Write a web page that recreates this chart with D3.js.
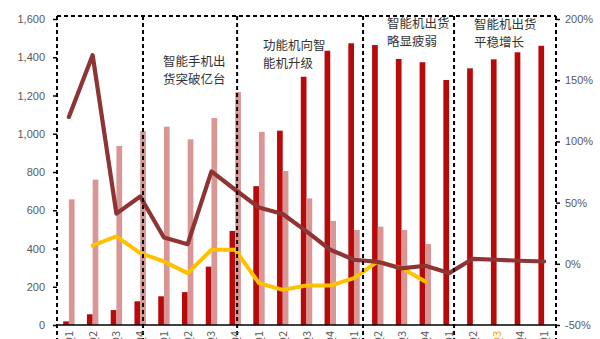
<!DOCTYPE html>
<html>
<head>
<meta charset="utf-8">
<script src="https://cdn.jsdelivr.net/npm/d3@7/dist/d3.min.js"></script>
<style>
  html, body { margin: 0; padding: 0; background: #fff; overflow: hidden; }
  svg { display: block; font-family: "Noto Sans CJK SC", "Liberation Sans", sans-serif; }
</style>
</head>
<body>
<svg id="chart" width="600" height="339"></svg>
<script>
// Quarterly shipments (left axis) and year-on-year growth (right axis, %)
const quarters = [
  "2010Q1","2010Q2","2010Q3","2010Q4","2011Q1","2011Q2","2011Q3","2011Q4",
  "2012Q1","2012Q2","2012Q3","2012Q4","2013Q1","2013Q2","2013Q3","2013Q4",
  "2014Q1","2014Q2","2014Q3","2014Q4","2015Q1"
];
const smartShipments = [19, 56, 78, 124, 150, 172, 305, 492, 726, 1016, 1298, 1434, 1473,
                        1464, 1391, 1374, 1281, 1342, 1389, 1426, 1460];
const featureShipments = [657, 760, 936, 1014, 1037, 971, 1082, 1218, 1010, 805, 662, 544, 497,
                          514, 497, 424, null, null, null, null, null];
const smartYoY = [120, 170.5, 41, 55, 21.5, 16, 75.5, 60.5, 46, 40.7, 26.5, 11.5, 3.3,
                  1.6, -3.8, -1.6, -7.6, 4.1, 3.3, 2.5, 1.9];
const totalYoY = [null, 14.8, 22.5, 8.8, 1.9, -7.6, 11.5, 11.5, -15.8, -21.3, -17.8, -17.8, -11.7,
                  1.9, -3.5, -14.5, null, null, null, null, null];
const leftTicks = [0, 200, 400, 600, 800, 1000, 1200, 1400, 1600];
const rightTicks = [-50, 0, 50, 100, 150, 200];

// Phase boundaries (in category units) and their captions
const phaseBreaks = [3.62, 7.58, 12.88, 16.71];
const phaseNotes = [
  ["智能手机出", "货突破亿台"],
  ["功能机向智", "能机升级"],
  ["智能机出货", "略显疲弱"],
  ["智能机出货", "平稳增长"]
];

const svg = d3.select("#chart");
const plotLeft = 57, plotRight = 556, plotTop = 19, plotBottom = 325, boxTop = 16;

const x = d3.scaleBand().domain(d3.range(quarters.length)).range([plotLeft, plotRight])
  .paddingInner(0.52).paddingOuter(0.26);
const xs = d3.scaleBand().domain(["smart", "feature"]).range([0, x.bandwidth()]);
const xUnits = d3.scaleLinear().domain([0, quarters.length]).range([plotLeft, plotRight]);
const yL = d3.scaleLinear().domain([0, 1600]).range([plotBottom, plotTop]);
const yR = d3.scaleLinear().domain([-50, 200]).range([plotBottom, plotTop]);

const darkRed = "#B80A0A", pink = "#D99694", brown = "#8E3434", gold = "#FFC000";

// Bars
const g = svg.append("g");
g.selectAll("rect.smart").data(smartShipments).join("rect")
  .attr("x", (d, i) => x(i) + xs("smart"))
  .attr("width", xs.bandwidth())
  .attr("y", d => yL(d))
  .attr("height", d => yL(0) - yL(d))
  .attr("fill", darkRed);
g.selectAll("rect.feature").data(featureShipments.map((v, i) => ({v, i})).filter(d => d.v != null)).join("rect")
  .attr("x", d => x(d.i) + xs("feature"))
  .attr("width", xs.bandwidth())
  .attr("y", d => yL(d.v))
  .attr("height", d => yL(0) - yL(d.v))
  .attr("fill", pink);

// Growth lines
const cx = i => x(i) + x.bandwidth() / 2;
const lineGen = d3.line().defined(d => d.v != null).x(d => cx(d.i)).y(d => yR(d.v));
svg.append("path").datum(totalYoY.map((v, i) => ({v, i})))
  .attr("d", lineGen).attr("fill", "none").attr("stroke", gold)
  .attr("stroke-width", 4).attr("stroke-linejoin", "round").attr("stroke-linecap", "round");
svg.append("path").datum(smartYoY.map((v, i) => ({v, i})))
  .attr("d", lineGen).attr("fill", "none").attr("stroke", brown)
  .attr("stroke-width", 4.2).attr("stroke-linejoin", "round").attr("stroke-linecap", "round");

// Dashed phase frame
const dash = sel => sel.attr("stroke", "#000").attr("stroke-width", 2).attr("stroke-dasharray", "4,3").attr("fill", "none");
svg.append("line").attr("x1", plotLeft).attr("x2", plotRight).attr("y1", boxTop).attr("y2", boxTop).call(dash);
[0, ...phaseBreaks, quarters.length].forEach(u => {
  svg.append("line").attr("x1", xUnits(u)).attr("x2", xUnits(u))
    .attr("y1", boxTop).attr("y2", 339).call(dash);
});

// Axes
const axisText = sel => sel.selectAll("text").attr("fill", "#595959").attr("font-size", 11)
  .attr("font-family", "'Liberation Sans', 'Noto Sans', sans-serif");
const ly = svg.append("g").attr("transform", `translate(${plotLeft},0)`)
  .call(d3.axisLeft(yL).tickValues(leftTicks).tickFormat(d3.format(",")).tickSize(4).tickPadding(8));
ly.select(".domain").remove();
ly.selectAll("line").attr("stroke", "#000").attr("stroke-width", 1.5);
ly.call(axisText);
const ry = svg.append("g").attr("transform", `translate(${plotRight},0)`)
  .call(d3.axisRight(yR).tickValues(rightTicks).tickFormat(d => d + "%").tickSize(4).tickPadding(5));
ry.select(".domain").remove();
ry.selectAll("line").attr("stroke", "#000").attr("stroke-width", 1.5);
ry.call(axisText);

// Baseline and category labels
svg.append("line").attr("x1", plotLeft).attr("x2", plotRight).attr("y1", yL(0)).attr("y2", yL(0))
  .attr("stroke", "#000").attr("stroke-width", 1.6);
svg.selectAll("text.cat").data(quarters).join("text")
  .attr("class", "cat")
  .attr("transform", (d, i) => `translate(${cx(i) + 4},${yL(0) + 6}) rotate(-90)`)
  .attr("text-anchor", "end")
  .attr("font-size", 11)
  .attr("fill", (d, i) => i === 18 ? "#F0A020" : "#595959")
  .text(d => d);

// Phase captions
const noteAnchor = [[163, 66], [263, 50], [387, 28], [474, 29]];
phaseNotes.forEach((lines, k) => {
  const t = svg.append("text").attr("font-size", 12.5).attr("fill", "#333");
  lines.forEach((s, j) => t.append("tspan").attr("x", noteAnchor[k][0])
    .attr("y", noteAnchor[k][1] + j * 17.5).text(s));
});
</script>
</body>
</html>
